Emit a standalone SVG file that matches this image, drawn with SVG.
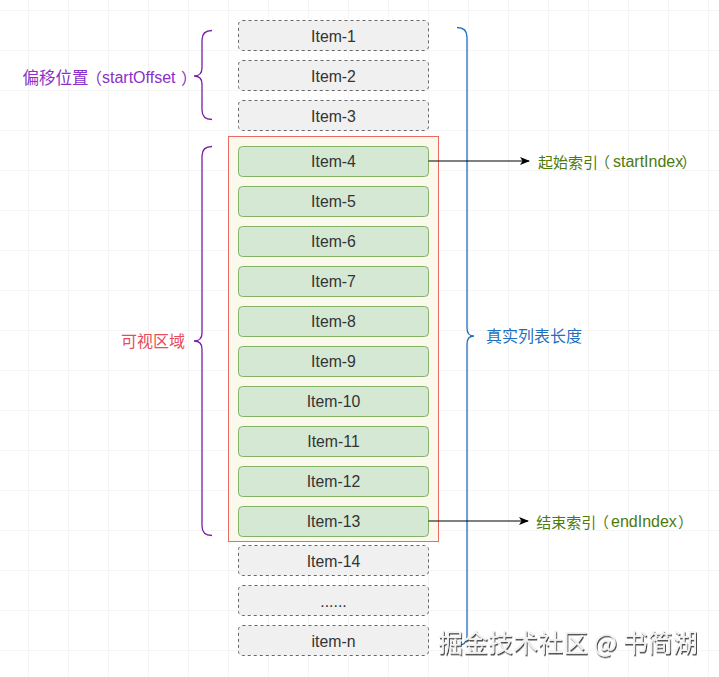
<svg xmlns="http://www.w3.org/2000/svg" width="719" height="677" viewBox="0 0 719 677">
<defs>
<pattern id="grid" x="28" y="10" width="40" height="40" patternUnits="userSpaceOnUse">
<path d="M0 0H40M0 0V40" fill="none" stroke="#ebebeb" stroke-width="1"/>
</pattern>
<marker id="arr" viewBox="0 0 10 10" refX="9" refY="5" markerWidth="10" markerHeight="10" markerUnits="userSpaceOnUse" orient="auto">
<path d="M0 1L10 5L0 9L2.5 5Z" fill="#000"/>
</marker>
<filter id="sh" x="-5%" y="-20%" width="110%" height="150%">
<feDropShadow dx="1" dy="1.5" stdDeviation="0.6" flood-color="#333" flood-opacity="0.9"/>
</filter>
</defs>
<style>
.g{fill:#f0f0f0;stroke:#666;stroke-width:1;stroke-dasharray:3 3}
.v{fill:#d5e8d4;stroke:#82b366;stroke-width:1}
.t{font-family:"Liberation Sans",Arial,sans-serif;font-size:15.8px;fill:#333;text-anchor:middle;dominant-baseline:central}
.l{font-family:"Liberation Sans","Noto Sans CJK SC",sans-serif;font-size:16px;dominant-baseline:central}
.c{font-family:"Noto Sans CJK SC",sans-serif}
.br{fill:none;stroke-width:1.3}
</style>
<rect width="719" height="677" fill="#fff"/>
<rect width="719" height="677" fill="url(#grid)"/>

<g id="visible-area">
<rect x="228.5" y="136.5" width="210" height="405" fill="#fbf8ec" stroke="#ea6b66" stroke-width="1"/>
</g>

<g id="item-1"><rect class="g" x="238.5" y="20.5" width="190" height="30" rx="4"/><text class="t" x="333.5" y="36">Item-1</text></g>
<g id="item-2"><rect class="g" x="238.5" y="60.5" width="190" height="30" rx="4"/><text class="t" x="333.5" y="76">Item-2</text></g>
<g id="item-3"><rect class="g" x="238.5" y="100.5" width="190" height="30" rx="4"/><text class="t" x="333.5" y="116">Item-3</text></g>
<g id="item-4"><rect class="v" x="238.5" y="146.5" width="190" height="30" rx="4"/><text class="t" x="333.5" y="161">Item-4</text></g>
<g id="item-5"><rect class="v" x="238.5" y="186.5" width="190" height="30" rx="4"/><text class="t" x="333.5" y="201">Item-5</text></g>
<g id="item-6"><rect class="v" x="238.5" y="226.5" width="190" height="30" rx="4"/><text class="t" x="333.5" y="241">Item-6</text></g>
<g id="item-7"><rect class="v" x="238.5" y="266.5" width="190" height="30" rx="4"/><text class="t" x="333.5" y="281">Item-7</text></g>
<g id="item-8"><rect class="v" x="238.5" y="306.5" width="190" height="30" rx="4"/><text class="t" x="333.5" y="321">Item-8</text></g>
<g id="item-9"><rect class="v" x="238.5" y="346.5" width="190" height="30" rx="4"/><text class="t" x="333.5" y="361">Item-9</text></g>
<g id="item-10"><rect class="v" x="238.5" y="386.5" width="190" height="30" rx="4"/><text class="t" x="333.5" y="401">Item-10</text></g>
<g id="item-11"><rect class="v" x="238.5" y="426.5" width="190" height="30" rx="4"/><text class="t" x="333.5" y="441">Item-11</text></g>
<g id="item-12"><rect class="v" x="238.5" y="466.5" width="190" height="30" rx="4"/><text class="t" x="333.5" y="481">Item-12</text></g>
<g id="item-13"><rect class="v" x="238.5" y="506.5" width="190" height="30" rx="4"/><text class="t" x="333.5" y="521">Item-13</text></g>
<g id="item-14"><rect class="g" x="238.5" y="545.5" width="190" height="30" rx="4"/><text class="t" x="333.5" y="561">Item-14</text></g>
<g id="item-dots"><rect class="g" x="238.5" y="585.5" width="190" height="30" rx="4"/><text class="t" x="333.5" y="601">......</text></g>
<g id="item-n"><rect class="g" x="238.5" y="625.5" width="190" height="30" rx="4"/><text class="t" x="333.5" y="641">item-n</text></g>

<g id="offset-brace">
<path class="br" stroke="#7a1fa0" d="M212 30.5Q202 30.5 202 40V68Q202 76 194 76Q202 76 202 84V110Q202 119.5 212 119.5"/>
<text class="l" y="77" fill="#8a2fc9"><tspan class="c" x="22.5" font-size="16.5">偏移位置</tspan><tspan class="c" x="86">（</tspan><tspan x="102">startOffset</tspan><tspan class="c" x="181">）</tspan></text>
</g>
<g id="visible-brace">
<path class="br" stroke="#7a1fa0" d="M212 146.5Q202 146.5 202 156V333Q202 341 194 341Q202 341 202 349V526Q202 535.5 212 535.5"/>
<text class="l" x="185" y="341" fill="#e84c5a" text-anchor="end">可视区域</text>
</g>
<g id="total-brace">
<path class="br" stroke="#1f6fbf" d="M457 27.5Q467 27.5 467 37V328Q467 336 474 336Q467 336 467 344V636Q467 645.5 457 645.5"/>
<text class="l" x="486" y="336" fill="#1f6fbf">真实列表长度</text>
</g>

<g id="connectors">
<line x1="428.5" y1="161" x2="529" y2="161" stroke="#000" stroke-width="1" marker-end="url(#arr)"/>
<line x1="428.5" y1="521" x2="528" y2="521" stroke="#000" stroke-width="1" marker-end="url(#arr)"/>
</g>

<g id="start-label"><text class="l" y="161" fill="#4d7a0a" font-size="14.5"><tspan class="c" x="538" font-size="15">起始索引</tspan><tspan class="c" x="595" font-size="15">（</tspan><tspan x="613">startIndex</tspan><tspan class="c" x="681.5" font-size="15">）</tspan></text></g>
<g id="end-label"><text class="l" y="521" fill="#4d7a0a" font-size="14.5"><tspan class="c" x="536.3" font-size="15">结束索引</tspan><tspan class="c" x="594" font-size="15">（</tspan><tspan x="611">endIndex</tspan><tspan class="c" x="678" font-size="15">）</tspan></text></g>

<g id="watermark">
<text x="438" y="652" font-family="'Noto Sans CJK SC','Liberation Sans',sans-serif" font-size="25" fill="#f2f2f2" filter="url(#sh)">掘金技术社区 @ 书简湖</text>
</g>
</svg>
